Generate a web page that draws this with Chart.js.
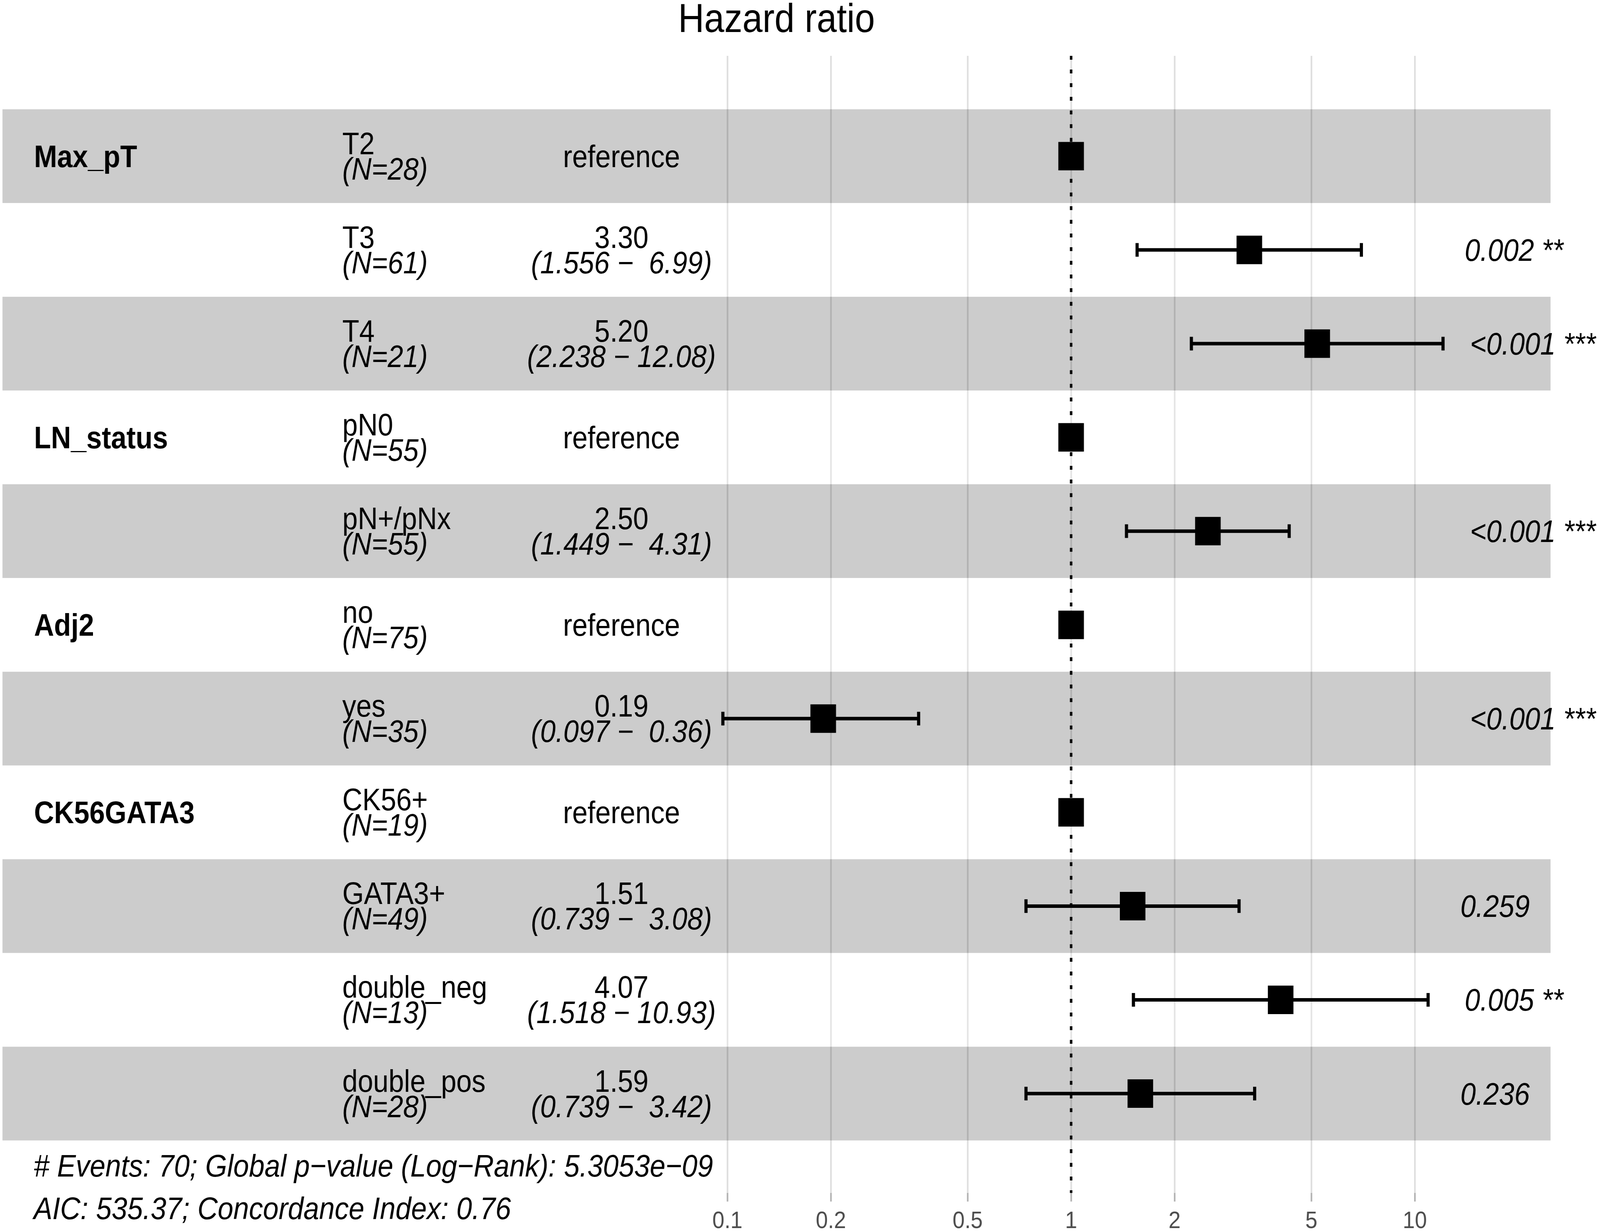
<!DOCTYPE html>
<html>
<head>
<meta charset="utf-8">
<title>Hazard ratio</title>
<script src="https://cdn.jsdelivr.net/npm/chart.js@4.4.1/dist/chart.umd.min.js"></script>
<style>
  html, body { margin: 0; padding: 0; background: #ffffff; overflow: hidden; }
  /* drawing buffer stays 4562x3155, the element just fills the window */
  #forest { display: block; width: 100vw; height: 100vh; }
</style>
</head>
<body>
<canvas id="forest" width="4562" height="3155" style="width:100vw;height:100vh"></canvas>
<script>
// one entry per row, top to bottom
const variables = ['Max_pT', '', '', 'LN_status', '', 'Adj2', '', 'CK56GATA3', '', '', ''];
const levels = ['T2', 'T3', 'T4', 'pN0', 'pN+/pNx', 'no', 'yes', 'CK56+', 'GATA3+', 'double_neg', 'double_pos'];
const nCounts = [28, 61, 21, 55, 55, 75, 35, 19, 49, 13, 28];
const hazardRatios = [1, 3.30, 5.20, 1, 2.50, 1, 0.19, 1, 1.51, 4.07, 1.59];
const ciLow = [null, 1.556, 2.238, null, 1.449, null, 0.097, null, 0.739, 1.518, 0.739];
const ciHigh = [null, 6.99, 12.08, null, 4.31, null, 0.36, null, 3.08, 10.93, 3.42];
const pValues = [null, '0.002', '<0.001', null, '<0.001', null, '<0.001', null, '0.259', '0.005', '0.236'];
const stars = ['', '**', '***', '', '***', '', '***', '', '', '**', ''];

const tickValues = [0.1, 0.2, 0.5, 1, 2, 5, 10];
const tickLabels = ['0.1', '0.2', '0.5', '1', '2', '5', '10'];

const footerLines = [
  '# Events: 70; Global p\u2212value (Log\u2212Rank): 5.3053e\u221209',
  'AIC: 535.37; Concordance Index: 0.76'
];

const FONT = "'Liberation Sans', Helvetica, Arial, sans-serif";
const ROW_FONT = 79;

// axis extents (log10), so that 1 sits at the reference line and a decade is ~980px
const X_MIN = Math.pow(10, -3.1092);
const X_MAX = Math.pow(10, 1.3949);
const Y_MIN = -1.07;
const Y_MAX = 11.06;

// alternating row bands, drawn over the grid like ggforest's translucent rects
const bandsPlugin = {
  id: 'bands',
  beforeDatasetsDraw(chart) {
    const { ctx, chartArea } = chart;
    const y = chart.scales.y;
    ctx.save();
    levels.forEach((lv, i) => {
      const top = y.getPixelForValue(i - 0.5);
      const bottom = y.getPixelForValue(i + 0.5);
      ctx.fillStyle = i % 2 === 0 ? 'rgba(0,0,0,0.2)' : 'rgba(255,255,255,0.2)';
      ctx.fillRect(chartArea.left, top, chartArea.right - chartArea.left, bottom - top);
    });
    ctx.restore();
  }
};

// title, table columns, p-values and footer
const textPlugin = {
  id: 'tableText',
  afterDraw(chart) {
    const { ctx, chartArea } = chart;
    const y = chart.scales.y;
    ctx.save();
    ctx.fillStyle = '#000000';
    ctx.textBaseline = 'alphabetic';

    ctx.font = `103px ${FONT}`;
    ctx.textAlign = 'center';
    ctx.fillText('Hazard ratio', (chartArea.left + chartArea.right) / 2, chartArea.top - 61);

    const reg = `${ROW_FONT}px ${FONT}`;
    const ita = `italic ${ROW_FONT}px ${FONT}`;

    levels.forEach((lv, i) => {
      const rc = y.getPixelForValue(i);

      if (variables[i]) {
        ctx.font = `bold ${ROW_FONT}px ${FONT}`;
        ctx.textAlign = 'left';
        ctx.fillText(variables[i], 97, rc + 28);
      }

      ctx.textAlign = 'left';
      ctx.font = reg;
      ctx.fillText(lv, 976, rc - 5);
      ctx.font = ita;
      ctx.fillText(`(N=${nCounts[i]})`, 976, rc + 60);

      ctx.textAlign = 'center';
      if (ciLow[i] == null) {
        ctx.font = reg;
        ctx.fillText('reference', 1772, rc + 28);
      } else {
        ctx.font = reg;
        ctx.fillText(hazardRatios[i].toFixed(2), 1772, rc - 5);
        ctx.font = ita;
        const hi = ciHigh[i].toFixed(2).padStart(5, ' ');
        ctx.fillText(`(${ciLow[i].toFixed(3)} \u2212 ${hi})`, 1772, rc + 60);
      }

      if (pValues[i]) {
        ctx.font = ita;
        ctx.textAlign = 'left';
        const label = pValues[i] + ' ' + stars[i];
        const w = ctx.measureText(label).width;
        // hjust = -0.2 from the anchor, as in the original
        ctx.fillText(label, 4120 + 0.2 * w, rc + 28);
      }
    });

    ctx.font = `italic 80px ${FONT}`;
    ctx.textAlign = 'left';
    ctx.fillText(footerLines[0], 96, chartArea.bottom - 42);
    ctx.fillText(footerLines[1], 96, chartArea.bottom + 67);
    ctx.restore();
  }
};

const ciDatasets = [];
levels.forEach((lv, i) => {
  if (ciLow[i] == null) return;
  ciDatasets.push({
    type: 'scatter',
    label: lv + ' CI',
    showLine: true,
    order: 1,
    data: [{ x: ciLow[i], y: i }, { x: ciHigh[i], y: i }],
    borderColor: '#000000',
    borderWidth: 9,
    pointStyle: 'line',
    pointRotation: 90,
    pointRadius: 17.5,
    pointHoverRadius: 17.5,
    pointBorderColor: '#000000',
    pointBorderWidth: 9
  });
});

new Chart(document.getElementById('forest'), {
  type: 'scatter',
  data: {
    datasets: [
      {
        label: 'Hazard ratio',
        order: 0,
        data: hazardRatios.map((v, i) => ({ x: v, y: i })),
        pointStyle: 'rect',
        pointRadius: 51.6,
        pointHoverRadius: 51.6,
        backgroundColor: '#000000',
        borderColor: '#000000',
        borderWidth: 0
      },
      ...ciDatasets,
      {
        label: 'HR = 1',
        type: 'scatter',
        showLine: true,
        order: 2,
        data: [{ x: 1, y: Y_MIN }, { x: 1, y: Y_MAX }],
        borderColor: '#000000',
        borderWidth: 7,
        borderDash: [10, 25],
        pointRadius: 0
      }
    ]
  },
  options: {
    responsive: false,
    devicePixelRatio: 1,
    animation: false,
    events: [],
    layout: {
      autoPadding: false,
      padding: { left: 7, right: 141, top: 143, bottom: 0 }
    },
    plugins: {
      legend: { display: false },
      tooltip: { enabled: false }
    },
    scales: {
      x: {
        type: 'logarithmic',
        min: X_MIN,
        max: X_MAX,
        bounds: 'data',
        afterBuildTicks: (scale) => {
          scale.ticks = tickValues.map(v => ({ value: v }));
        },
        afterFit: (scale) => {
          scale.height = 100;
          scale.paddingLeft = 0;
          scale.paddingRight = 0;
        },
        border: { display: false },
        grid: {
          color: '#dedede',
          lineWidth: 4.5,
          drawTicks: true,
          tickLength: 22,
          tickColor: '#b3b3b3',
          tickWidth: 4.5
        },
        ticks: {
          autoSkip: false,
          maxRotation: 0,
          padding: 14,
          color: '#4d4d4d',
          font: { family: FONT, size: 62 },
          callback: (value, index) => tickLabels[index]
        }
      },
      y: {
        type: 'linear',
        display: false,
        reverse: true,
        min: Y_MIN,
        max: Y_MAX,
        bounds: 'data'
      }
    }
  },
  plugins: [bandsPlugin, textPlugin]
});
</script>
</body>
</html>
